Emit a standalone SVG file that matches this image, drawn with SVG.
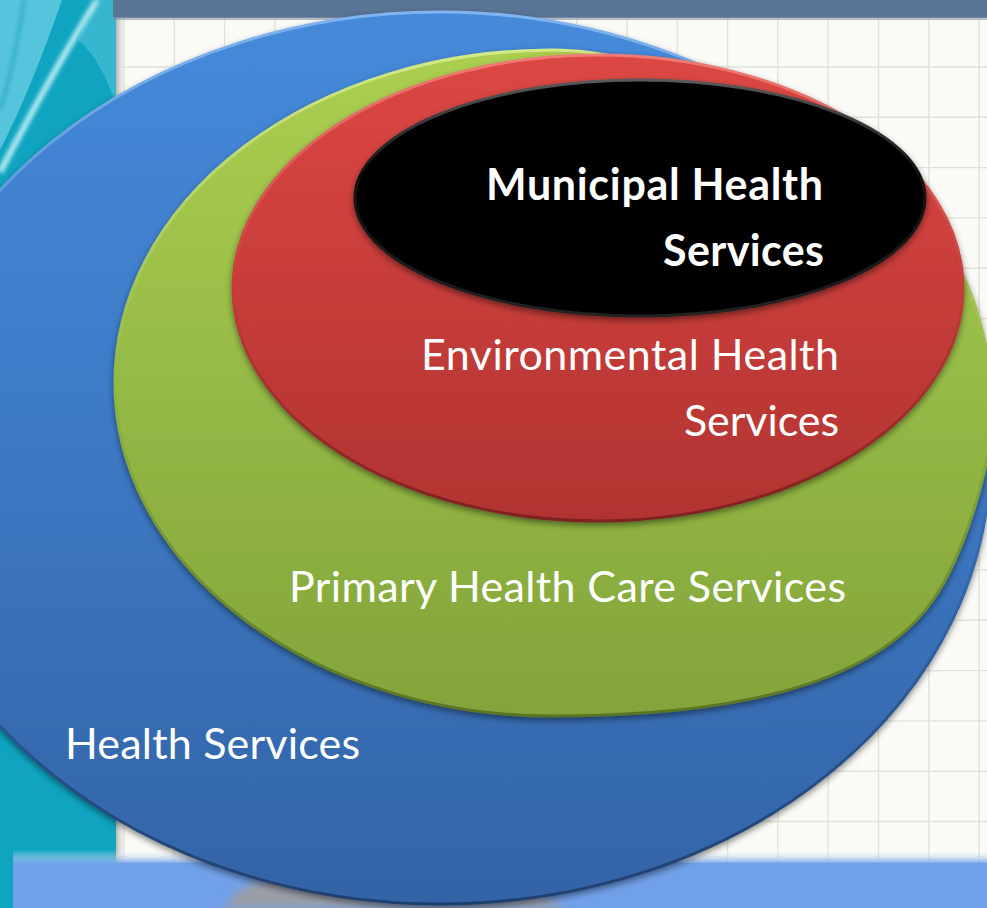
<svg xmlns="http://www.w3.org/2000/svg" width="987" height="908" viewBox="0 0 987 908">
  <defs>
    <style>
      .lbl { fill: #ffffff; font-family: Lato, "Open Sans", "Liberation Sans", sans-serif; font-size: 43px; }
      .bold { font-weight: 700; }
      .grid line { stroke: #e2e2dc; stroke-width: 1.4; }
    </style>
    <linearGradient id="fillBlue" x1="0" y1="0" x2="0" y2="1">
      <stop offset="0" stop-color="#458ada"/>
      <stop offset="0.5" stop-color="#3c78c3"/>
      <stop offset="1" stop-color="#3364a6"/>
    </linearGradient>
    <linearGradient id="rimBlue" x1="0" y1="0" x2="0" y2="1">
      <stop offset="0" stop-color="#7fb4f0"/>
      <stop offset="0.5" stop-color="#3b74bd"/>
      <stop offset="1" stop-color="#1f3f6e"/>
    </linearGradient>
    <linearGradient id="fillGreen" x1="0" y1="0" x2="0" y2="1">
      <stop offset="0" stop-color="#accf51"/>
      <stop offset="0.5" stop-color="#95ba46"/>
      <stop offset="1" stop-color="#83a43a"/>
    </linearGradient>
    <linearGradient id="rimGreen" x1="0" y1="0" x2="0" y2="1">
      <stop offset="0" stop-color="#d2ea86"/>
      <stop offset="0.5" stop-color="#92b745"/>
      <stop offset="1" stop-color="#5a7424"/>
    </linearGradient>
    <linearGradient id="fillRed" x1="0" y1="0" x2="0" y2="1">
      <stop offset="0" stop-color="#dc4743"/>
      <stop offset="0.5" stop-color="#c73d3a"/>
      <stop offset="1" stop-color="#b13332"/>
    </linearGradient>
    <linearGradient id="rimRed" x1="0" y1="0" x2="0" y2="1">
      <stop offset="0" stop-color="#f07a74"/>
      <stop offset="0.5" stop-color="#c43c39"/>
      <stop offset="1" stop-color="#7e2020"/>
    </linearGradient>
    <linearGradient id="rimBlack" x1="0" y1="0" x2="0" y2="1">
      <stop offset="0" stop-color="#5a5a5a"/>
      <stop offset="0.4" stop-color="#111111"/>
      <stop offset="1" stop-color="#222222"/>
    </linearGradient>
    <linearGradient id="bandFade" x1="0" y1="0" x2="0" y2="1">
      <stop offset="0" stop-color="#fafaf6" stop-opacity="0"/>
      <stop offset="1" stop-color="#6f9ee8"/>
    </linearGradient>
    <linearGradient id="edgeShade" x1="0" y1="0" x2="1" y2="0">
      <stop offset="0" stop-color="#b8b8b4"/>
      <stop offset="1" stop-color="#fafaf6" stop-opacity="0"/>
    </linearGradient>
    <filter id="shadow" x="-10%" y="-10%" width="120%" height="125%">
      <feDropShadow dx="0" dy="3" stdDeviation="3" flood-color="#000000" flood-opacity="0.45"/>
    </filter>
    <filter id="soft" x="-20%" y="-20%" width="140%" height="140%">
      <feGaussianBlur stdDeviation="2"/>
    </filter>
    <filter id="softer" x="-20%" y="-50%" width="140%" height="200%">
      <feGaussianBlur stdDeviation="4"/>
    </filter>
  </defs>

  <!-- backdrop: teal side strip, header bar, squared paper, blue footer band -->
  <g id="backdrop">
    <rect x="0" y="0" width="118" height="908" fill="#0fa4c0"/>
    <path d="M0,0 L62,0 C48,40 28,95 0,150 Z" fill="#56c5db"/>
    <path d="M97,0 L118,0 L118,110 C108,80 96,55 78,40 Z" fill="#37b6cf"/>
    <path d="M97,0 C72,40 38,100 0,172" fill="none" stroke="#b8ecf4" stroke-width="6" filter="url(#soft)"/>
    <path d="M24,0 C18,40 10,80 0,110" fill="none" stroke="#2aa9c2" stroke-width="3" filter="url(#soft)"/>

    <rect x="116" y="16" width="871" height="850" fill="#fafaf6"/>
    <g class="grid">
      <line x1="124" y1="16" x2="124" y2="866"/>
      <line x1="174.3" y1="16" x2="174.3" y2="866"/>
      <line x1="224.6" y1="16" x2="224.6" y2="866"/>
      <line x1="274.9" y1="16" x2="274.9" y2="866"/>
      <line x1="325.2" y1="16" x2="325.2" y2="866"/>
      <line x1="375.5" y1="16" x2="375.5" y2="866"/>
      <line x1="425.8" y1="16" x2="425.8" y2="866"/>
      <line x1="476.1" y1="16" x2="476.1" y2="866"/>
      <line x1="526.4" y1="16" x2="526.4" y2="866"/>
      <line x1="576.7" y1="16" x2="576.7" y2="866"/>
      <line x1="627" y1="16" x2="627" y2="866"/>
      <line x1="677.3" y1="16" x2="677.3" y2="866"/>
      <line x1="727.6" y1="16" x2="727.6" y2="866"/>
      <line x1="777.9" y1="16" x2="777.9" y2="866"/>
      <line x1="828.2" y1="16" x2="828.2" y2="866"/>
      <line x1="878.5" y1="16" x2="878.5" y2="866"/>
      <line x1="928.8" y1="16" x2="928.8" y2="866"/>
      <line x1="979.1" y1="16" x2="979.1" y2="866"/>
      <line x1="116" y1="67" x2="987" y2="67"/>
      <line x1="116" y1="117.3" x2="987" y2="117.3"/>
      <line x1="116" y1="167.6" x2="987" y2="167.6"/>
      <line x1="116" y1="217.9" x2="987" y2="217.9"/>
      <line x1="116" y1="268.2" x2="987" y2="268.2"/>
      <line x1="116" y1="318.5" x2="987" y2="318.5"/>
      <line x1="116" y1="368.8" x2="987" y2="368.8"/>
      <line x1="116" y1="419.1" x2="987" y2="419.1"/>
      <line x1="116" y1="469.4" x2="987" y2="469.4"/>
      <line x1="116" y1="519.7" x2="987" y2="519.7"/>
      <line x1="116" y1="570" x2="987" y2="570"/>
      <line x1="116" y1="620.3" x2="987" y2="620.3"/>
      <line x1="116" y1="670.6" x2="987" y2="670.6"/>
      <line x1="116" y1="720.9" x2="987" y2="720.9"/>
      <line x1="116" y1="771.2" x2="987" y2="771.2"/>
      <line x1="116" y1="821.5" x2="987" y2="821.5"/>
    </g>
    <rect x="116" y="16" width="12" height="850" fill="url(#edgeShade)"/>

    <rect x="113" y="0" width="874" height="18" fill="#5a7496"/>
    <rect x="113" y="17" width="874" height="3" fill="#8394ab" opacity="0.6"/>

    <rect x="13" y="850" width="974" height="14" fill="url(#bandFade)"/>
    <rect x="13" y="863" width="974" height="45" fill="#70a0e9"/>
    <path d="M225,908 C232,892 250,880 280,878 C320,874 380,880 440,882 C500,884 540,890 566,908 Z" fill="#9a9ea7" filter="url(#softer)"/>
  </g>

  <!-- nested service areas, outermost first -->
  <g id="health-services">
    <ellipse cx="440" cy="458" rx="550" ry="446" fill="url(#fillBlue)" stroke="url(#rimBlue)" stroke-width="3" filter="url(#shadow)"/>
    <text class="lbl" x="65" y="759" textLength="295">Health Services</text>
  </g>

  <g id="primary-health-care">
    <path d="M552,50 A437,333 0 0 0 115,383 A437,333 0 0 0 552,716 C720,716 870,690 933,600 C961,560 992,470 992,410 C992,350 975,290 950,253 C920,210 720,50 552,50 Z" fill="url(#fillGreen)" stroke="url(#rimGreen)" stroke-width="3" filter="url(#shadow)"/>
    <text class="lbl" x="289" y="602" textLength="557">Primary Health Care Services</text>
  </g>

  <g id="environmental-health">
    <ellipse cx="598" cy="288" rx="365" ry="233" fill="url(#fillRed)" stroke="url(#rimRed)" stroke-width="3" filter="url(#shadow)"/>
    <text class="lbl" x="421" y="370" textLength="418">Environmental Health</text>
    <text class="lbl" x="684" y="436" textLength="155">Services</text>
  </g>

  <g id="municipal-health">
    <ellipse cx="640" cy="198" rx="285" ry="118" fill="#030303" stroke="url(#rimBlack)" stroke-width="3" filter="url(#shadow)"/>
    <text class="lbl bold" x="486" y="200" textLength="337">Municipal Health</text>
    <text class="lbl bold" x="663" y="266" textLength="161">Services</text>
  </g>

  <g id="connectors"/>
</svg>
